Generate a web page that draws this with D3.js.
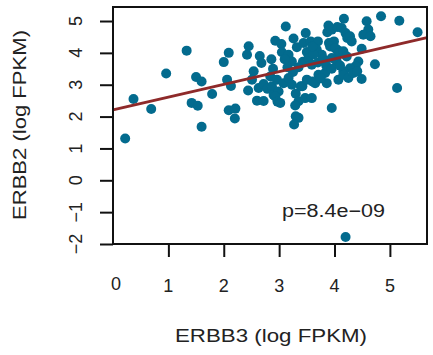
<!DOCTYPE html>
<html><head><meta charset="utf-8">
<script src="https://cdn.jsdelivr.net/npm/d3@7"></script>
<style>body{margin:0;background:#fff}svg{display:block}text{font-family:"Liberation Sans",Arial,sans-serif;fill:#222}</style>
</head><body>
<script>
const erbb3 = [0.22,0.37,0.69,0.96,1.33,1.50,1.60,1.42,1.53,1.60,1.79,2.00,2.09,2.06,2.13,2.09,2.21,2.20,2.42,2.45,2.44,2.54,2.51,2.60,2.72,2.65,2.68,2.63,2.72,2.79,2.86,2.89,2.87,2.90,2.99,2.93,2.97,3.02,2.93,3.04,3.12,3.05,3.17,3.23,2.84,2.96,3.08,3.17,3.23,3.26,3.32,3.30,3.35,3.47,3.59,3.29,3.30,3.35,3.27,3.39,3.48,3.44,3.50,3.43,3.53,3.59,3.42,3.50,3.65,3.71,3.83,3.86,3.60,3.57,3.70,3.68,3.77,3.87,3.95,4.05,3.95,3.90,3.99,4.05,4.17,4.20,4.23,4.13,4.28,4.31,4.49,3.92,4.01,4.07,4.16,4.22,3.95,4.04,4.43,4.38,4.28,4.73,4.16,4.07,4.16,4.25,4.34,4.49,4.41,4.58,4.61,4.52,4.65,4.84,5.17,5.50,5.13,4.20,3.89,3.70,3.80,3.62,3.85,3.75,3.95,4.10,3.35,3.25,3.15,3.60,3.10];
const erbb2 = [1.31,2.55,2.24,3.35,4.07,3.24,3.10,2.43,2.34,1.68,2.71,3.71,4.00,3.16,2.96,2.20,2.25,1.94,3.94,4.21,2.82,3.42,3.16,2.50,2.49,3.90,3.68,2.90,3.02,2.87,3.80,3.50,2.95,2.68,2.79,2.63,2.47,2.43,4.38,4.28,4.83,4.02,3.94,3.73,3.26,3.16,3.05,3.21,3.00,4.45,4.18,2.72,2.48,2.58,2.58,2.35,2.01,1.96,1.75,2.95,4.62,4.31,4.03,3.72,3.84,3.63,2.95,3.16,3.05,3.31,3.37,3.05,3.10,4.36,4.36,4.10,3.94,4.65,4.73,4.81,2.27,4.31,4.36,4.10,5.07,4.62,4.47,4.78,4.52,4.36,4.13,4.20,4.15,3.99,4.05,3.89,3.84,3.73,3.73,3.58,3.52,3.64,3.42,3.16,3.31,3.21,3.37,3.18,3.42,4.99,4.73,4.57,4.52,5.15,5.01,4.65,2.90,-1.78,4.86,3.70,3.80,3.95,3.60,3.20,3.50,3.60,3.55,3.40,3.55,4.20,3.80];
const fitIntercept = 2.21, fitSlope = 0.40;
const xTicks = [1,2,3,4,5];
const xTickLabels = ["0","1","2","3","4","5"];
const yTicks = [-2,-1,0,1,2,3,4,5];
const pText = "p=8.4e\u221209";

const W=433,H=355;
const svg=d3.select("body").append("svg").attr("width",W).attr("height",H);
const x=d3.scaleLinear().domain([0,5.67]).range([113,427]);
const y=d3.scaleLinear().domain([-2,5.44]).range([244,7]);

// points
svg.append("g").selectAll("circle").data(erbb3.map((v,i)=>[v,erbb2[i]])).join("circle")
  .attr("cx",d=>x(d[0])).attr("cy",d=>y(d[1])).attr("r",5).attr("fill","#036b8e");

// regression line
const xd=x.domain();
svg.append("line").attr("x1",x(xd[0])).attr("y1",y(fitIntercept+fitSlope*xd[0]))
  .attr("x2",x(xd[1])).attr("y2",y(fitIntercept+fitSlope*xd[1]))
  .attr("stroke","#8e2a2a").attr("stroke-width",3);

// box
svg.append("rect").attr("x",113).attr("y",7).attr("width",314).attr("height",237)
  .attr("fill","none").attr("stroke","#111").attr("stroke-width",2);

// x axis
const xa=d3.axisBottom(x).tickValues(xTicks).tickSize(13).tickFormat("");
const gx=svg.append("g").attr("transform","translate(0,244)").call(xa);
gx.select(".domain").remove();
gx.selectAll("line").attr("stroke","#111").attr("stroke-width",2);
svg.append("g").selectAll("text").data(xTickLabels).join("text")
  .attr("x",(d,i)=>x(i)+(i===0?3:0)).attr("y",(d,i)=>i===0?290:291.5)
  .attr("text-anchor","middle").attr("font-size",18).text(d=>d);

// y axis
const ya=d3.axisLeft(y).tickValues(yTicks).tickSize(13).tickFormat("");
const gy=svg.append("g").attr("transform","translate(113,0)").call(ya);
gy.select(".domain").remove();
gy.selectAll("line").attr("stroke","#111").attr("stroke-width",2);
svg.append("g").selectAll("text").data(yTicks).join("text")
  .attr("transform",d=>`translate(82,${y(d)}) rotate(-90)`)
  .attr("text-anchor","middle").attr("font-size",18)
  .text(d=>d<0?"\u2212"+Math.abs(d):String(d));

// titles
svg.append("text").attr("x",271).attr("y",341.5).attr("text-anchor","middle")
  .attr("font-size",18).attr("textLength",192).attr("lengthAdjust","spacingAndGlyphs").text("ERBB3 (log FPKM)");
svg.append("text").attr("transform","translate(25.5,125) rotate(-90)").attr("text-anchor","middle")
  .attr("font-size",18).attr("textLength",190).attr("lengthAdjust","spacingAndGlyphs").text("ERBB2 (log FPKM)");
svg.append("text").attr("x",333.5).attr("y",216.5).attr("text-anchor","middle")
  .attr("font-size",18).attr("textLength",103).attr("lengthAdjust","spacingAndGlyphs").text(pText);
</script>
</body></html>
